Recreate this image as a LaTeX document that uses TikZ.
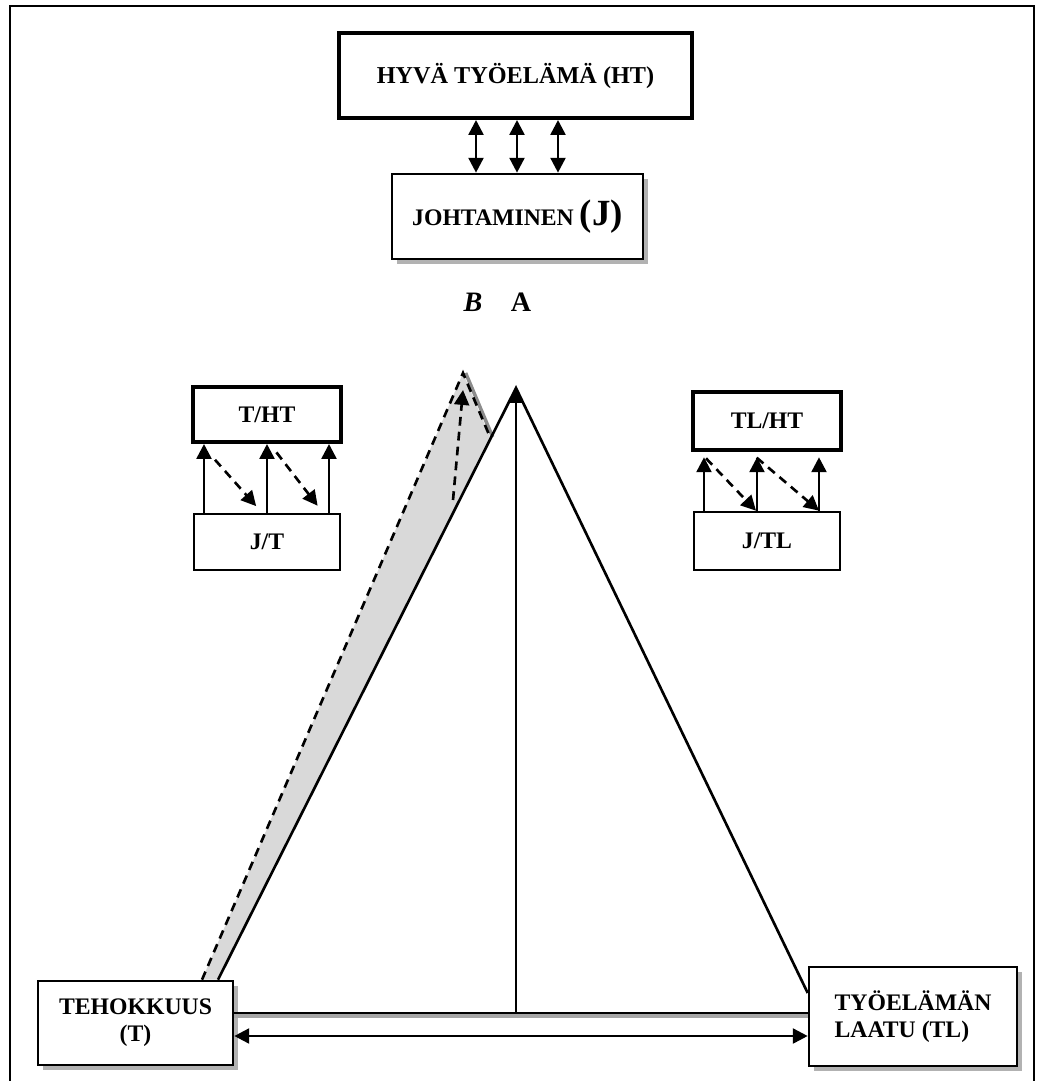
\documentclass[tikz,border=0pt]{standalone}
\usepackage{fontspec}
\setmainfont{Liberation Serif}
\usetikzlibrary{arrows.meta,shadows}

\begin{document}
\begin{tikzpicture}[x=0.02cm,y=-0.02cm,
	box/.style={draw, line width=1.5pt, fill=white, align=center, inner sep=0pt, font=\fontsize{13.5}{15.5}\selectfont\bfseries},
	thickbox/.style={box, line width=2.3pt},
	shadowbox/.style={box, general shadow={fill=black!30, shadow xshift=3pt, shadow yshift=-3pt}},
	tip/.style={-{Triangle[length=8.5pt,width=8.5pt]}, line width=1.5pt},
	dbl/.style={{Triangle[length=8.5pt,width=8.5pt]}-{Triangle[length=8.5pt,width=8.5pt]}, line width=1.5pt},
	dtip/.style={tip, dash pattern=on 5pt off 3.5pt},
	]
	\useasboundingbox (0,0) rectangle (1038,1081);
	% frame
	\draw[line width=1.3pt] (10,1081) -- (10,6) -- (1034,6) -- (1034,1081);
	
	\node[thickbox, minimum width=7.06cm, minimum height=1.7cm, font=\fontsize{13.8}{16}\selectfont\bfseries] (ht) at (515.5,75.5) {HYVÄ TYÖELÄMÄ (HT)};
	\node[shadowbox, minimum width=5.02cm, minimum height=1.7cm] (j) at (517.5,216.5) {JOHTAMINEN {\fontsize{21}{21}\selectfont(J)}};
	\foreach \x in {476,517,558}
		\draw[dbl] (ht.south -| \x,0) -- (j.north -| \x,0);
	
	\node[font=\fontsize{16}{16}\selectfont\bfseries\itshape] (b) at (473,302) {B};
	\node[font=\fontsize{16}{16}\selectfont\bfseries] (a) at (521,302) {A};
	
	% bottom boxes
	\node[shadowbox, minimum width=3.9cm, minimum height=1.68cm] (t) at (135.5,1023) {TEHOKKUUS\\(T)};
	\node[shadowbox, minimum width=4.16cm, minimum height=1.98cm, align=left] (tl) at (913,1016.5) {TYÖELÄMÄN\\LAATU (TL)};
	
	% triangle
	\coordinate (apex) at (516,388);
	\coordinate (tfoot) at (t.north -| 218,0);
	\coordinate (bfoot) at (t.north -| 202,0);
	\coordinate (bpeak) at (463,373);
	\coordinate (bside) at (490,437);
	\coordinate (b0) at (453,500);
	\coordinate (b1) at (463,390);
	\fill[black!15] (bfoot) -- (bpeak) -- (bside) -- (tfoot) -- cycle;
	\draw[black!45, line width=2pt] ([xshift=1.5pt]bpeak) -- ([xshift=1.5pt]bside);
	\draw[line width=1.5pt, dash pattern=on 5pt off 3.5pt] (bfoot) -- (bpeak) -- (bside);
	\draw[dtip] (b0) -- (b1);
	
	\draw[black!35, line width=2.5pt] (t.east |- 0,1016) -- (tl.west |- 0,1016);
	\draw[line width=1.5pt] (t.east |- 0,1013) -- (tl.west |- 0,1013);
	\draw[line width=1.5pt] (tfoot) -- (apex) -- (tl.west |- 0,993);
	\draw[tip] (apex |- 0,1013) -- (apex);
	\draw[dbl] (t.east |- 0,1036) -- (tl.west |- 0,1036);
	
	% left pair
	\node[thickbox, minimum width=2.96cm, minimum height=1.1cm] (tht) at (267,414.5) {T/HT};
	\node[box, minimum width=2.92cm, minimum height=1.12cm] (jt) at (267,542) {J/T};
	\foreach \x in {204,267,329}
		\draw[tip] (jt.north -| \x,0) -- (tht.south -| \x,0);
	\draw[dtip, shorten <=12pt, shorten >=5pt] (tht.south -| 201,0) -- (jt.north -| 262,0);
	\draw[dtip, shorten <=6pt, shorten >=5pt] (tht.south -| 270,0) -- (jt.north -| 323,0);
	
	% right pair
	\node[thickbox, minimum width=2.96cm, minimum height=1.16cm] (tlht) at (767,421) {TL/HT};
	\node[box, minimum width=2.92cm, minimum height=1.16cm] (jtl) at (767,541) {J/TL};
	\foreach \x in {704,757,819}
		\draw[tip, shorten >=3pt] (jtl.north -| \x,0) -- (tlht.south -| \x,0);
	\draw[dtip, shorten <=5pt] (tlht.south -| 700,0) -- (jtl.north -| 756,0);
	\draw[dtip, shorten <=5pt] (tlht.south -| 750,0) -- (jtl.north -| 819,0);
\end{tikzpicture}
\end{document}
